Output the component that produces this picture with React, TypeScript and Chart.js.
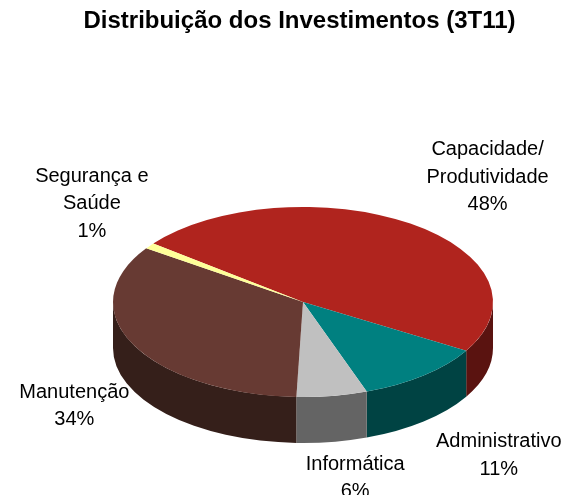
import React, { useEffect, useRef } from 'react';
import { Chart, registerables } from 'chart.js';

Chart.register(...registerables);

const TITLE = 'Distribuição dos Investimentos (3T11)';
const categories: string[][] = [
  ['Capacidade/', 'Produtividade'],
  ['Administrativo'],
  ['Informática'],
  ['Manutenção'],
  ['Segurança e', 'Saúde'],
];
const values = [48, 11, 6, 34, 1];
const topColors = ['#B0241E', '#008080', '#C0C0C0', '#673A33', '#FFFF99'];
const sideColors = ['#5A1310', '#004343', '#646464', '#351F1A', '#80804C'];
const labelNudge = [
  [37, -4],
  [29, 5],
  [14, -1],
  [-1, -2],
  [-4, -12],
];

const TILT = 0.5;
const DEPTH = 46;
const RADIUS = 190;
const ROTATION = 308;
const LINE_H = 27.5;
const GAP = 10;
const FONT_FAMILY = '"Liberation Sans", Arial, sans-serif';

const pie3d = {
  id: 'pie3d',
  beforeDatasetsDraw(chart: any) {
    const ctx = chart.ctx as CanvasRenderingContext2D;
    const arcs = chart.getDatasetMeta(0).data as any[];
    ctx.save();
    if (arcs.length) {
      const { x: cx, y: cy, outerRadius: r } = arcs[0].getProps(['x', 'y', 'outerRadius'], true);
      const ry = r * TILT;
      const TAU = Math.PI * 2;
      arcs.forEach((arc, i) => {
        const { startAngle, endAngle } = arc.getProps(['startAngle', 'endAngle'], true);
        const s0 = ((startAngle % TAU) + TAU) % TAU;
        const e0 = s0 + (endAngle - startAngle);
        for (const k of [0, TAU]) {
          const s = Math.max(s0, k);
          const e = Math.min(e0, k + Math.PI);
          if (e <= s) continue;
          ctx.beginPath();
          ctx.ellipse(cx, cy, r, ry, 0, s, e, false);
          ctx.lineTo(cx + r * Math.cos(e), cy + ry * Math.sin(e) + DEPTH);
          ctx.ellipse(cx, cy + DEPTH, r, ry, 0, e, s, true);
          ctx.closePath();
          ctx.fillStyle = sideColors[i];
          ctx.fill();
        }
      });
      ctx.restore();
      ctx.save();
      ctx.translate(cx, cy);
      ctx.scale(1, TILT);
      ctx.translate(-cx, -cy);
    }
  },
  afterDatasetsDraw(chart: any) {
    chart.ctx.restore();
  },
  afterDraw(chart: any) {
    const ctx = chart.ctx as CanvasRenderingContext2D;
    const arcs = chart.getDatasetMeta(0).data as any[];
    ctx.save();
    ctx.fillStyle = '#000';
    ctx.textAlign = 'center';
    ctx.textBaseline = 'middle';
    ctx.font = `bold 24px ${FONT_FAMILY}`;
    ctx.fillText(TITLE, 299.5, 21.5);

    ctx.font = `20px ${FONT_FAMILY}`;
    const total = values.reduce((a, b) => a + b, 0);
    arcs.forEach((arc, i) => {
      const { x: cx, y: cy, outerRadius: r, startAngle, endAngle } = arc.getProps(
        ['x', 'y', 'outerRadius', 'startAngle', 'endAngle'],
        true
      );
      const ry = r * TILT;
      const mid = (startAngle + endAngle) / 2;
      const lines = [...categories[i], `${Math.round((values[i] / total) * 100)}%`];
      const w = Math.max(...lines.map((l) => ctx.measureText(l).width));
      const h = lines.length * LINE_H;
      const c = Math.cos(mid);
      const s = Math.sin(mid);
      const x = cx + c * (r + w / 2 + GAP) + labelNudge[i][0];
      const y = cy + s * (ry + h / 2 + GAP) + (s > 0 ? DEPTH : 0) + labelNudge[i][1];
      lines.forEach((l, j) => {
        ctx.fillText(l, x, y + (j - (lines.length - 1) / 2) * LINE_H);
      });
    });
    ctx.restore();
  },
};

export default function App() {
  const ref = useRef<HTMLCanvasElement | null>(null);
  useEffect(() => {
    if (!ref.current) return;
    const chart = new Chart(ref.current, {
      type: 'pie',
      data: {
        labels: categories.map((c) => c.join(' ')),
        datasets: [
          {
            data: values,
            backgroundColor: topColors,
            borderWidth: 0,
            radius: RADIUS,
            clip: false,
            hoverOffset: 0,
          } as any,
        ],
      },
      options: {
        responsive: false,
        animation: false,
        events: [],
        rotation: ROTATION,
        layout: { padding: { top: 110, bottom: 1, left: 113, right: 72 } },
        plugins: {
          legend: { display: false },
          tooltip: { enabled: false },
          title: { display: false },
        },
      } as any,
      plugins: [pie3d],
    });
    return () => chart.destroy();
  }, []);
  return (
    <div style={{ position: 'fixed', left: 0, top: 0, width: 565, height: 495, background: '#fff' }}>
      <canvas ref={ref} width={565} height={495} style={{ display: 'block' }} />
    </div>
  );
}
